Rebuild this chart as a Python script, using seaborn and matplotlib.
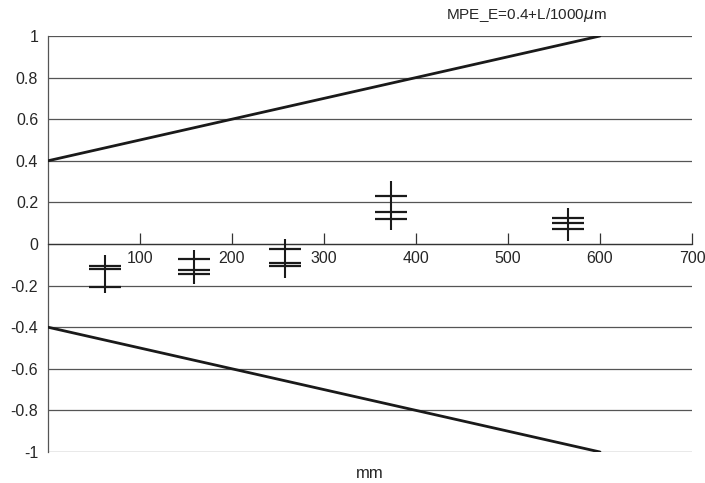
import numpy as np
import pandas as pd
import matplotlib
matplotlib.use("Agg")
import matplotlib.pyplot as plt
import seaborn as sns

# positions along the measured length (mm)
positions = [62, 159, 258, 373, 565]
# three repeated deviations per position (um)
meas1 = [-0.106, -0.074, -0.024, 0.231, 0.126]
meas2 = [-0.120, -0.125, -0.090, 0.152, 0.099]
meas3 = [-0.206, -0.142, -0.106, 0.122, 0.071]
# vertical extent bars
range_top = [-0.053, -0.029, 0.023, 0.304, 0.171]
range_bottom = [-0.236, -0.192, -0.162, 0.067, 0.016]

# MPE limit lines
limit_x = [0, 600]
limit_upper = [0.4, 1.0]
limit_lower = [-0.4, -1.0]

x_ticks = [100, 200, 300, 400, 500, 600, 700]
y_ticks = [-1, -0.8, -0.6, -0.4, -0.2, 0, 0.2, 0.4, 0.6, 0.8, 1]
y_labels = ["-1", "-0.8", "-0.6", "-0.4", "-0.2", "0", "0.2", "0.4", "0.6", "0.8", "1"]

sns.set_style("white")
plt.rcParams["font.family"] = ["Liberation Sans", "DejaVu Sans"]

df_meas = pd.DataFrame({
    "x": positions * 3,
    "y": meas1 + meas2 + meas3,
})
df_lim = pd.DataFrame({
    "x": limit_x * 2,
    "y": limit_upper + limit_lower,
    "which": ["upper"] * 2 + ["lower"] * 2,
})

fig = plt.figure(figsize=(7.05, 4.83), dpi=100)
ax = fig.add_axes([0.068, 0.0642, 0.9136, 0.8613])

# horizontal grid lines
for yv in y_ticks:
    ax.axhline(yv, color="#555555", lw=0.9, zorder=1)

_ = sns.lineplot(data=df_lim, x="x", y="y", units="which", estimator=None,
                 color="#1a1a1a", lw=2.0, ax=ax, zorder=3)

ax.vlines(positions, range_bottom, range_top, color="#1a1a1a", lw=1.5, zorder=4)
_ = sns.scatterplot(data=df_meas, x="x", y="y", marker="_", s=560,
                    color="#1a1a1a", linewidth=1.6, ax=ax, zorder=4)

ax.set_xlim(0, 700)
ax.set_ylim(-1, 1)
ax.set_yticks(y_ticks)
ax.set_yticklabels(y_labels)
ax.set_xticks(x_ticks)
ax.set_xticklabels([str(v) for v in x_ticks])

for s in ["top", "right"]:
    ax.spines[s].set_visible(False)
ax.spines["bottom"].set_position(("data", 0))
ax.spines["bottom"].set_color("#333333")
ax.spines["bottom"].set_linewidth(0.9)
ax.spines["left"].set_color("#555555")
ax.spines["left"].set_linewidth(0.9)

ax.tick_params(axis="x", direction="in", length=8, width=0.9, color="#333333",
               pad=5, labelsize=11.5, bottom=True)
ax.tick_params(axis="y", length=0, pad=7, labelsize=11.5)
ax.set_xlabel("")
ax.set_ylabel("")

ax.text(0.5, -0.052, "mm", transform=ax.transAxes, ha="center", va="center",
        fontsize=12)
ax.text(520, 1.1, r"MPE_E=0.4+L/1000$\mu$m", ha="center", va="center",
        fontsize=11, clip_on=False)

fig.savefig("out.png", dpi=100)
